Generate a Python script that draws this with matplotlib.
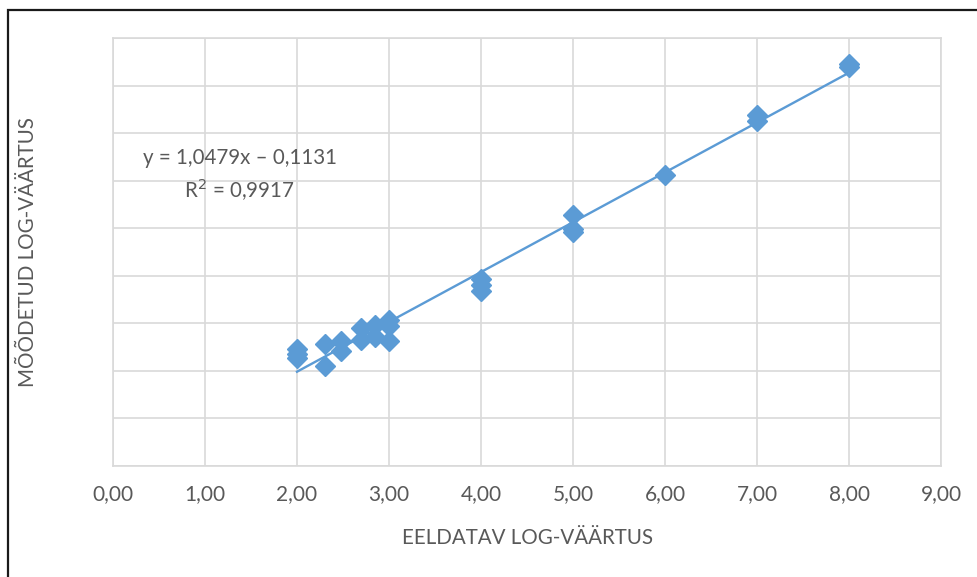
import numpy as np
import matplotlib
matplotlib.use("Agg")
import matplotlib.pyplot as plt
from matplotlib.patches import Rectangle

plt.rcParams['font.family'] = ['Lato', 'DejaVu Sans']

expected = [2.0, 2.0, 2.0, 2.3, 2.3, 2.48, 2.48, 2.7, 2.7, 2.85, 2.85, 3.0, 3.0, 3.0,
            4.0, 4.0, 4.0, 5.0, 5.0, 5.0, 6.0, 7.0, 7.0, 8.0, 8.0]
measured = [2.45, 2.36, 2.28, 2.57, 2.10, 2.62, 2.42, 2.90, 2.66, 2.97, 2.72, 3.08, 2.94, 2.62,
            3.93, 3.80, 3.68, 5.27, 4.98, 4.93, 6.12, 7.38, 7.25, 8.46, 8.38]

slope = 1.0479
intercept = -0.1131
r2 = 0.9917

x_ticks = np.arange(0, 10)
blue = '#5B9BD5'
grid_c = '#D9D9D9'
text_c = '#595959'

fig = plt.figure(figsize=(9.77, 5.77), dpi=100)
ax = fig.add_axes([113 / 977, 1 - 466 / 577, (941 - 113) / 977, (466 - 38) / 577])

ax.plot(expected, measured, ls='none', marker='D', ms=10.5, color=blue, zorder=3)

xl = np.array([min(expected), max(expected)])
ax.plot(xl, slope * xl + intercept, color=blue, lw=1.7, zorder=2)

ax.set_xlim(0, 9)
ax.set_ylim(0, 9)
ax.set_xticks(x_ticks)
ax.set_xticklabels([f'{v:.2f}'.replace('.', ',') for v in x_ticks])
ax.set_yticks(np.arange(0, 10))
ax.set_yticklabels([])
ax.tick_params(length=0, labelsize=15, colors=text_c, pad=13)
ax.grid(True, color=grid_c, lw=1.2, zorder=0)
ax.set_axisbelow(True)
for s in ax.spines.values():
    s.set_color(grid_c)
    s.set_linewidth(1.2)

ax.set_xlabel('EELDATAV LOG-VÄÄRTUS', fontsize=14.8, color=text_c, labelpad=17)
ax.set_ylabel('MÕÕDETUD LOG-VÄÄRTUS', fontsize=14.8, color=text_c)
ax.yaxis.set_label_coords(-0.091, 0.5)

eq = f'y = {slope:.4f}x – {abs(intercept):.4f}'.replace('.', ',')
ax.text(1.38, 6.48, eq, fontsize=14.8, color=text_c, ha='center', va='center')
ax.text(1.37, 5.80, f'R$^2$ = {r2:.4f}'.replace('.', ','), fontsize=14.8, color=text_c,
        ha='center', va='center')

# outer chart border (cut off at right and bottom)
fig.add_artist(Rectangle((8 / 977, -0.1), 1.2, 1 - 10 / 577 + 0.1, transform=fig.transFigure,
                         fill=False, edgecolor='#1a1a1a', lw=1.6))

fig.savefig('out.png', dpi=100)
